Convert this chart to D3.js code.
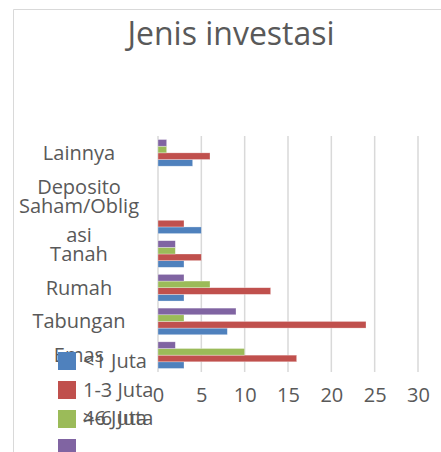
<!DOCTYPE html>
<html>
<head>
<meta charset="utf-8">
<script src="https://cdn.jsdelivr.net/npm/d3@7"></script>
<style>
  body { margin: 0; background: #fff; }
  svg text { font-family: "Open Sans", sans-serif; fill: #595959; }
</style>
</head>
<body>
<div id="chart"></div>
<script>
var categories = ["Emas", "Tabungan", "Rumah", "Tanah", "Saham/Obligasi", "Deposito", "Lainnya"];
var seriesNames = ["<1 Juta", "1-3 Juta", "4-6 Juta", ">6 Juta"];
var under1 = [3, 8, 3, 3, 5, 0, 4];
var from1to3 = [16, 24, 13, 5, 3, 0, 6];
var from4to6 = [10, 3, 6, 2, 0, 0, 1];
var over6 = [2, 9, 3, 2, 0, 0, 1];
var xTicks = [0, 5, 10, 15, 20, 25, 30];
var colors = ["#4f81bd", "#c0504d", "#9bbb59", "#8064a2"];

var seriesValues = [under1, from1to3, from4to6, over6];

var width = 441, height = 452;
var svg = d3.select("#chart").append("svg")
    .attr("width", width)
    .attr("height", height);

// chart area border (only top and left edge visible)
svg.append("path")
    .attr("d", "M13.5,452 L13.5,9.5 L441,9.5")
    .attr("fill", "none")
    .attr("stroke", "#d9d9d9")
    .attr("stroke-width", 1);

svg.append("text")
    .attr("x", 231)
    .attr("y", 45)
    .attr("text-anchor", "middle")
    .style("font-size", "32px")
    .text("Jenis investasi");

var x = d3.scaleLinear().domain([0, 30]).range([158, 418]);
var y = d3.scaleBand().domain(categories).range([372, 136])
    .paddingInner(0.21).paddingOuter(0.105);
var ySub = d3.scaleBand().domain(d3.range(seriesValues.length).reverse())
    .range([0, y.bandwidth()]);

// gridlines
svg.append("g").selectAll("line")
    .data(xTicks)
    .enter().append("line")
      .attr("x1", function(d) { return x(d); })
      .attr("x2", function(d) { return x(d); })
      .attr("y1", 136)
      .attr("y2", 372)
      .attr("stroke", "#d9d9d9")
      .attr("stroke-width", 1.5);

// bars
var groups = svg.append("g").selectAll("g")
    .data(categories)
    .enter().append("g")
      .attr("transform", function(d) { return "translate(0," + y(d) + ")"; });

groups.selectAll("rect")
    .data(function(d, i) { return seriesValues.map(function(s, j) { return { s: j, v: s[i] }; }); })
    .enter().append("rect")
      .filter(function(d) { return d.v > 0; })
      .attr("x", x(0))
      .attr("y", function(d) { return ySub(d.s); })
      .attr("width", function(d) { return x(d.v) - x(0); })
      .attr("height", ySub.bandwidth())
      .attr("fill", function(d) { return colors[d.s]; })
      .attr("stroke", "#ffffff")
      .attr("stroke-opacity", 0.5)
      .attr("stroke-width", 0.6);

// category labels, wrapped like the original
function wrapChars(str, maxW, fontSize) {
  var tmp = svg.append("text").style("font-size", fontSize + "px");
  var lines = [], cur = "";
  for (var k = 0; k < str.length; k++) {
    tmp.text(cur + str[k]);
    if (tmp.node().getComputedTextLength() > maxW && cur.length) {
      lines.push(cur);
      cur = str[k];
    } else {
      cur += str[k];
    }
  }
  lines.push(cur);
  tmp.remove();
  return lines;
}

var labelSize = 20, lineGap = 29;
categories.forEach(function(c) {
  var lines = wrapChars(c, 124, labelSize);
  var cy = y(c) + y.bandwidth() / 2 + 7 - (lines.length - 1) * lineGap / 2;
  var t = svg.append("text")
      .attr("text-anchor", "middle")
      .style("font-size", labelSize + "px");
  lines.forEach(function(l, i) {
    t.append("tspan").attr("x", 79).attr("y", cy + i * lineGap).text(l);
  });
});

// x tick labels
var xAxis = d3.axisBottom(x).tickValues(xTicks).tickSize(0).tickPadding(0);
var axisG = svg.append("g").attr("transform", "translate(0,388)").call(xAxis);
axisG.select(".domain").remove();
axisG.selectAll("text")
    .attr("dy", "0.71em")
    .style("font-size", "20px")
    .style("font-family", "'Open Sans', sans-serif")
    .attr("fill", "#595959");

// legend (entries overflow and overlap as in the original)
var legendRows = [352, 381, 410, 439];
var legendTextRows = [368, 397, 425, 425];
var legend = svg.append("g").selectAll("g")
    .data(seriesNames)
    .enter().append("g");

legend.append("rect")
    .attr("x", 58)
    .attr("y", function(d, i) { return legendRows[i]; })
    .attr("width", 18)
    .attr("height", 18)
    .attr("fill", function(d, i) { return colors[i]; });

legend.append("text")
    .attr("x", 83)
    .attr("y", function(d, i) { return legendTextRows[i]; })
    .style("font-size", "20px")
    .text(function(d) { return d; });
</script>
</body>
</html>
